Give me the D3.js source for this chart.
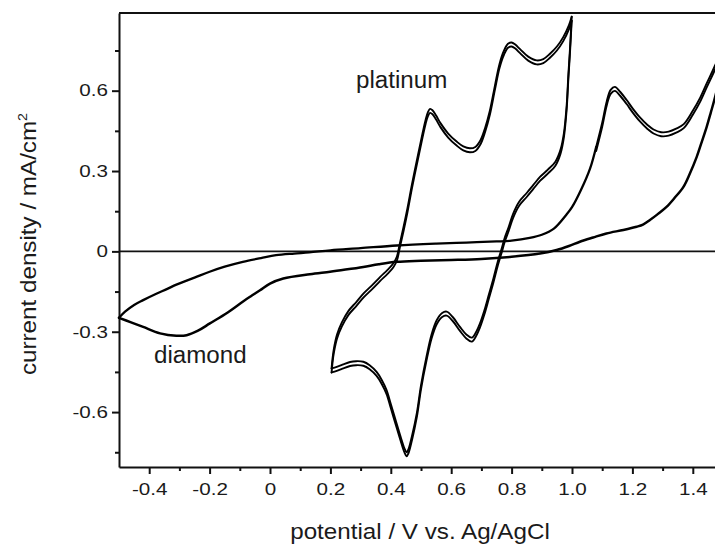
<!DOCTYPE html>
<html>
<head>
<meta charset="utf-8">
<script src="https://cdn.jsdelivr.net/npm/d3@7"></script>
<style>
  body { margin: 0; background: #fff; }
  svg { display: block; }
  text { font-family: "Liberation Sans", Arial, sans-serif; fill: #1a1a1a; }
</style>
</head>
<body>
<div id="chart"></div>
<script>
// cyclic voltammograms, potential (V) vs current density (mA/cm2)
// platinum: scan 0.2 -> 1.0 V and back
const platinumAnodic = [
  [0.204,-0.437],[0.207,-0.40],[0.212,-0.36],[0.222,-0.31],[0.238,-0.265],[0.26,-0.222],
  [0.285,-0.19],[0.31,-0.157],[0.34,-0.124],[0.365,-0.095],[0.39,-0.068],[0.408,-0.045],
  [0.42,-0.02],[0.43,0.03],[0.442,0.09],[0.455,0.16],[0.47,0.25],[0.49,0.36],[0.505,0.44],
  [0.515,0.49],[0.523,0.52],[0.53,0.532],[0.538,0.527],[0.55,0.507],[0.565,0.478],[0.59,0.44],
  [0.618,0.41],[0.64,0.392],[0.662,0.385],[0.68,0.39],[0.697,0.415],[0.712,0.46],[0.728,0.525],
  [0.745,0.62],[0.76,0.70],[0.775,0.75],[0.788,0.775],[0.80,0.78],[0.812,0.772],[0.828,0.755],
  [0.855,0.727],[0.883,0.713],[0.905,0.718],[0.927,0.738],[0.95,0.765],[0.971,0.80],[0.99,0.845],
  [0.999,0.876]
]
const platinumCathodic = [
  [0.999,0.876],[0.993,0.75],[0.988,0.66],[0.982,0.54],[0.973,0.44],[0.962,0.38],[0.945,0.335],
  [0.92,0.305],[0.894,0.278],[0.872,0.248],[0.85,0.218],[0.825,0.185],[0.805,0.14],[0.79,0.09],
  [0.777,0.05],[0.767,0.01],[0.755,-0.035],[0.74,-0.10],[0.725,-0.16],[0.71,-0.22],[0.695,-0.27],
  [0.683,-0.30],[0.668,-0.322],[0.65,-0.31],[0.629,-0.282],[0.605,-0.245],[0.585,-0.225],
  [0.57,-0.23],[0.552,-0.257],[0.535,-0.31],[0.518,-0.394],[0.50,-0.50],[0.486,-0.605],
  [0.47,-0.69],[0.458,-0.74],[0.452,-0.75],[0.445,-0.735],[0.432,-0.69],[0.419,-0.642],
  [0.40,-0.57],[0.386,-0.518],[0.37,-0.48],[0.353,-0.45],[0.33,-0.425],[0.309,-0.412],
  [0.285,-0.41],[0.265,-0.413],[0.24,-0.423],[0.221,-0.431],[0.204,-0.437]
]
// diamond: scan -0.5 -> 1.5 V and back
const diamondAnodic = [
  [-0.5,-0.248],[-0.48,-0.225],[-0.45,-0.20],[-0.42,-0.182],[-0.38,-0.16],[-0.34,-0.14],
  [-0.31,-0.124],[-0.25,-0.098],[-0.2,-0.076],[-0.15,-0.057],[-0.09,-0.039],[-0.03,-0.025],
  [0.02,-0.014],[0.08,-0.008],[0.13,-0.004],[0.2,0.004],[0.3,0.012],[0.42,0.022],[0.55,0.029],
  [0.65,0.033],[0.75,0.037],[0.8,0.04],[0.86,0.05],[0.9,0.062],[0.94,0.085],[0.98,0.135],
  [1.0,0.165],[1.03,0.23],[1.06,0.31],[1.08,0.39],[1.1,0.48],[1.115,0.56],[1.128,0.603],
  [1.142,0.614],[1.16,0.595],[1.181,0.565],[1.2,0.535],[1.225,0.50],[1.25,0.472],[1.27,0.455],
  [1.295,0.445],[1.32,0.447],[1.345,0.458],[1.37,0.475],[1.4,0.525],[1.425,0.575],
  [1.446,0.627],[1.474,0.695],[1.5,0.77]
]
const diamondCathodic = [
  [1.5,0.77],[1.49,0.66],[1.474,0.577],[1.46,0.52],[1.446,0.465],[1.43,0.41],[1.413,0.353],
  [1.39,0.29],[1.369,0.241],[1.34,0.2],[1.313,0.166],[1.285,0.14],[1.258,0.117],[1.235,0.1],
  [1.214,0.092],[1.17,0.08],[1.114,0.067],[1.07,0.052],[1.026,0.036],[0.99,0.02],[0.949,0.005],
  [0.894,-0.008],[0.8,-0.02],[0.7,-0.028],[0.6,-0.032],[0.5,-0.035],[0.42,-0.039],[0.36,-0.048],
  [0.309,-0.058],[0.25,-0.068],[0.199,-0.076],[0.132,-0.085],[0.044,-0.101],[0,-0.12],
  [-0.033,-0.145],[-0.06,-0.165],[-0.088,-0.186],[-0.14,-0.228],[-0.199,-0.269],[-0.24,-0.297],
  [-0.276,-0.313],[-0.31,-0.315],[-0.364,-0.306],[-0.42,-0.282],[-0.46,-0.265],[-0.5,-0.248]
]

const xMajor = [-0.4,-0.2,0,0.2,0.4,0.6,0.8,1.0,1.2,1.4]
const xMinor = [-0.3,-0.1,0.1,0.3,0.5,0.7,0.9,1.1,1.3]
const yMajor = [-0.6,-0.3,0,0.3,0.6]
const yMinor = [-0.75,-0.45,-0.15,0.15,0.45,0.75]
const xLabels = ['-0.4','-0.2','0','0.2','0.4','0.6','0.8','1.0','1.2','1.4']
const yLabels = ['-0.6','-0.3','0','0.3','0.6']

const W = 715, H = 546
const mLeft = 119, mTop = 13, mBottom = 467, mRight = 723

let svg = d3.select('#chart').append('svg')
  .attr('width', W).attr('height', H)

let x = d3.scaleLinear().domain([-0.5, 1.5]).range([mLeft, mRight])
let y = d3.scaleLinear().domain([-0.805, 0.89]).range([mBottom, mTop])

// stretch text a bit wider, the original font runs wide
let widen = (sel, k) => sel.each(function() {
  const len = this.getComputedTextLength()
  d3.select(this).attr('textLength', len * k).attr('lengthAdjust', 'spacingAndGlyphs')
})

// frame (top) and zero line
svg.append('line')
  .attr('x1', mLeft).attr('x2', mRight).attr('y1', mTop).attr('y2', mTop)
  .attr('stroke', '#111').attr('stroke-width', 2)
svg.append('line')
  .attr('x1', mLeft).attr('x2', mRight).attr('y1', y(0)).attr('y2', y(0))
  .attr('stroke', '#111').attr('stroke-width', 1.6)

// axes
let gx = svg.append('g').attr('transform', `translate(0,${mBottom})`)
  .call(d3.axisBottom(x).tickValues(xMajor).tickSize(7).tickSizeOuter(0).tickPadding(9)
    .tickFormat((d, i) => xLabels[i]))
svg.append('g').attr('transform', `translate(0,${mBottom})`)
  .call(d3.axisBottom(x).tickValues(xMinor).tickSize(4).tickSizeOuter(0).tickFormat(''))
  .select('.domain').remove()

let gy = svg.append('g').attr('transform', `translate(${mLeft},0)`)
  .call(d3.axisLeft(y).tickValues(yMajor).tickSize(7).tickSizeOuter(0).tickPadding(4)
    .tickFormat((d, i) => yLabels[i]))
svg.append('g').attr('transform', `translate(${mLeft},0)`)
  .call(d3.axisLeft(y).tickValues(yMinor).tickSize(4).tickSizeOuter(0).tickFormat(''))
  .select('.domain').remove()

svg.selectAll('.domain').attr('stroke', '#111').attr('stroke-width', 2)
svg.selectAll('.tick line').attr('stroke', '#111').attr('stroke-width', 2)
svg.selectAll('.tick text').attr('font-size', 16.5).attr('fill', '#1a1a1a')
  .style('font-family', '"Liberation Sans", Arial, sans-serif')
widen(svg.selectAll('.tick text'), 1.25)

// curves
let line = d3.line()
  .x(d => x(d[0]))
  .y(d => y(d[1]))
  .curve(d3.curveCatmullRom.alpha(0.5))

let curves = svg.append('g')
let drawBranch = (data, copies, w) => {
  copies.forEach(off => {
    curves.append('path')
      .datum(data)
      .attr('d', line)
      .attr('transform', `translate(0,${off})`)
      .attr('fill', 'none')
      .attr('stroke', '#000')
      .attr('stroke-width', w)
      .attr('stroke-linejoin', 'round')
      .attr('stroke-linecap', 'round')
  })
}

// repeated cycles drift apart around the peaks
drawBranch(platinumAnodic, [0, 4], 1.9)
drawBranch(platinumCathodic, [0, 4], 1.9)
drawBranch(diamondAnodic.filter(d => d[0] < 1.1), [0], 2.3)
drawBranch(diamondAnodic.filter(d => d[0] >= 1.08), [0, 4], 1.9)
drawBranch(diamondCathodic, [0], 2.5)

// labels
svg.append('text').attr('x', 356).attr('y', 88).attr('font-size', 23)
  .text('platinum').call(widen, 1.05)
svg.append('text').attr('x', 154).attr('y', 363).attr('font-size', 23)
  .text('diamond').call(widen, 1.05)

// axis titles
svg.append('text')
  .attr('x', 420).attr('y', 539)
  .attr('text-anchor', 'middle')
  .attr('font-size', 22)
  .text('potential / V vs. Ag/AgCl')
  .call(widen, 1.1)

let yt = svg.append('text')
  .attr('transform', 'translate(36,244) rotate(-90)')
  .attr('text-anchor', 'middle')
  .attr('font-size', 22)
yt.append('tspan').text('current density / mA/cm')
yt.append('tspan').attr('font-size', 13).attr('dy', -9).text('2')
yt.call(widen, 1.1)
</script>
</body>
</html>
